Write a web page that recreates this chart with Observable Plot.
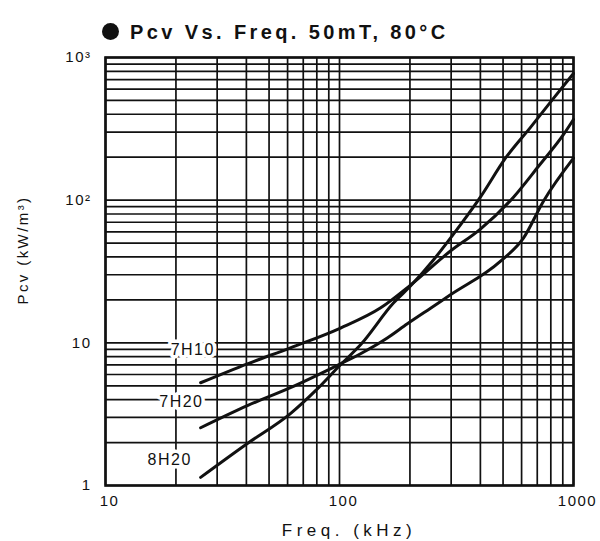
<!DOCTYPE html>
<html>
<head>
<meta charset="utf-8">
<script src="https://cdn.jsdelivr.net/npm/d3@7"></script>
<script src="https://cdn.jsdelivr.net/npm/@observablehq/plot@0.6"></script>
<style>
  body { margin: 0; background: #fff; }
  #wrap { position: relative; width: 600px; height: 541px; font-family: "Liberation Sans", Arial, sans-serif; color: #111; }
  #chart { position: absolute; left: 0; top: 0; }
  #title { position: absolute; left: 102px; top: 22px; font-size: 20px; font-weight: bold; letter-spacing: 3.4px; white-space: nowrap; line-height: 1; }
  #title .dot { display: inline-block; width: 17px; height: 17px; border-radius: 50%; background: #111; margin-right: 11px; vertical-align: -1px; }
  #ytitle { position: absolute; left: 22px; top: 250px; font-size: 15px; letter-spacing: 2.4px; white-space: nowrap; line-height: 1; transform: translate(-50%, -50%) rotate(-90deg); }
  #xtitle { position: absolute; left: 349px; top: 522px; font-size: 17px; letter-spacing: 4.5px; white-space: nowrap; line-height: 1; transform: translateX(-50%); }
  #chart svg text { letter-spacing: 1.5px; }
</style>
</head>
<body>
<div id="wrap">
  <div id="chart"></div>
  <div id="title"><span class="dot"></span>Pcv Vs. Freq. 50mT, 80°C</div>
  <div id="ytitle">Pcv (kW/m³)</div>
  <div id="xtitle">Freq. (kHz)</div>
</div>
<script>
// Core loss Pcv (kW/m³) against frequency (kHz) at 50 mT, 80 °C
const grades = ["7H10", "7H20", "8H20"];

const freq7H10 = [25.5, 40.4, 61.7, 101, 150, 201, 298, 400, 554, 709, 907, 1000];
const pcv7H10  = [5.25, 7.13, 9.23, 12.7, 17.6, 25.4, 44.0, 62.7, 105, 173, 289, 368];

const freq7H20 = [25.5, 40.4, 61.7, 101, 123, 160, 195, 245, 298, 488, 611, 744, 1000];
const pcv7H20  = [2.54, 3.63, 4.85, 7.13, 8.38, 10.8, 13.6, 17.5, 21.7, 37.4, 54.2, 98.4, 197];

const freq8H20 = [25.5, 40.4, 61.7, 79.0, 101, 123, 170, 201, 252, 307, 400, 512, 655, 821, 1000];
const pcv8H20  = [1.14, 1.97, 3.19, 4.62, 7.02, 9.68, 19.0, 25.0, 38.1, 57.8, 105, 197, 324, 517, 773];

// where each grade name sits, in data units
const labelFreq = [23.6, 21.1, 18.8];
const labelPcv  = [8.93, 3.87, 1.52];

// axis tick values and their printed text
const xTicks = [10, 100, 1000];
const xTickLabels = ["10", "100", "1000"];
const yTicks = [1, 10, 100, 1000];
const yTickLabels = ["1", "10", "10²", "10³"];

const series = [
  [freq7H10, pcv7H10],
  [freq7H20, pcv7H20],
  [freq8H20, pcv8H20]
];
const rows = series.flatMap(([fs, ps], k) =>
  fs.map((f, i) => ({grade: grades[k], f, pcv: ps[i]})));
const labels = grades.map((g, k) => ({grade: g, f: labelFreq[k], pcv: labelPcv[k]}));

const xText = new Map(xTicks.map((t, i) => [t, xTickLabels[i]]));
const yText = new Map(yTicks.map((t, i) => [t, yTickLabels[i]]));

// log-paper grid: 1..9 within every decade
const mult = [1, 2, 3, 4, 5, 6, 7, 8, 9];
const xGrid = [10, 100].flatMap(d => mult.map(m => m * d)).concat([1000]);
const yGrid = [1, 10, 100].flatMap(d => mult.map(m => m * d)).concat([1000]);

const chart = Plot.plot({
  width: 600,
  height: 541,
  marginTop: 57,
  marginBottom: 56,
  marginLeft: 105,
  marginRight: 27,
  x: {type: "log", domain: [10, 1000]},
  y: {type: "log", domain: [1, 1000]},
  style: {fontFamily: "'Liberation Sans', Arial, sans-serif", fontSize: "15px", color: "#111", background: "transparent"},
  marks: [
    Plot.ruleX(xGrid, {stroke: "#111", strokeWidth: 1.7}),
    Plot.ruleY(yGrid, {stroke: "#111", strokeWidth: 1.7}),
    Plot.frame({stroke: "#111", strokeWidth: 2.6}),
    Plot.axisX(xTicks, {tickSize: 0, tickPadding: 10, tickFormat: d => xText.get(d), label: null, dx: 4, fontSize: 15}),
    Plot.axisY(yTicks, {tickSize: 0, tickPadding: 14, tickFormat: d => yText.get(d), label: null, fontSize: 15}),
    Plot.line(rows, {x: "f", y: "pcv", z: "grade", stroke: "#111", strokeWidth: 3, curve: "monotone-x"}),
    Plot.text(labels, {x: "f", y: "pcv", text: "grade", fill: "#111", stroke: "white", strokeWidth: 7, fontSize: 16, textAnchor: "middle"})
  ]
});
document.getElementById("chart").appendChild(chart);
</script>
</body>
</html>
